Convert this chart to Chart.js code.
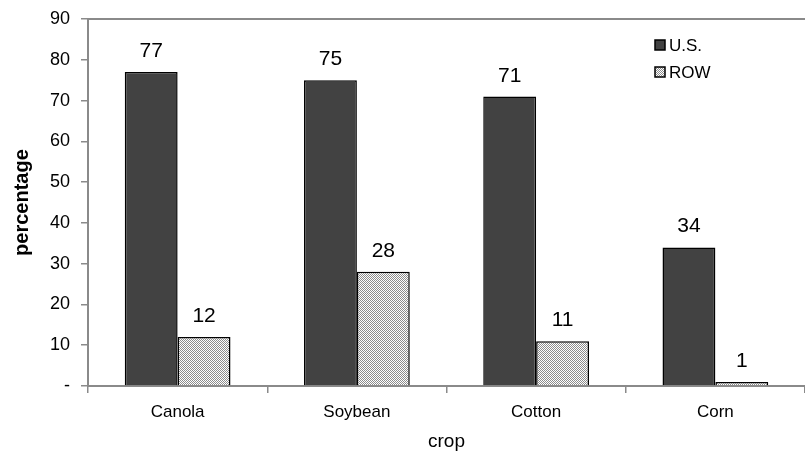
<!DOCTYPE html>
<html>
<head>
<meta charset="utf-8">
<script src="https://cdn.jsdelivr.net/npm/chart.js@4.4.1/dist/chart.umd.min.js"></script>
<style>
  html, body { margin: 0; padding: 0; background: #fff; }
  #wrap { width: 805px; height: 453px; }
</style>
</head>
<body>
<div id="wrap"><canvas id="c" width="805" height="453"></canvas></div>
<script>
// Adoption share by crop
const crops = ['Canola', 'Soybean', 'Cotton', 'Corn'];
const usValues = [77, 75, 71, 34];
const rowValues = [12, 28, 11, 1];
const seriesNames = ['U.S.', 'ROW'];
const yTicks = [0, 10, 20, 30, 40, 50, 60, 70, 80, 90];

const FONT = 'Liberation Sans, Arial, sans-serif';

// fine stipple fill for the second series
function stipple() {
  const p = document.createElement('canvas');
  p.width = 2; p.height = 2;
  const g = p.getContext('2d');
  g.fillStyle = '#ffffff'; g.fillRect(0, 0, 2, 2);
  g.fillStyle = '#8c8c8c';
  g.fillRect(0, 0, 1, 1); g.fillRect(1, 1, 1, 1);
  return g.createPattern(p, 'repeat');
}
const ctx0 = document.getElementById('c').getContext('2d');
const rowFill = stipple();

const decor = {
  id: 'decor',
  afterDatasetsDraw(chart) {
    const ctx = chart.ctx;
    const area = chart.chartArea;
    ctx.save();
    // top frame line
    ctx.strokeStyle = '#8a8a8a';
    ctx.lineWidth = 2;
    ctx.beginPath();
    ctx.moveTo(area.left - 1, area.top);
    ctx.lineTo(chart.width, area.top);
    ctx.stroke();

    // value labels above bars
    ctx.fillStyle = '#000';
    ctx.font = '21px ' + FONT;
    ctx.textAlign = 'center';
    ctx.textBaseline = 'alphabetic';
    chart.data.datasets.forEach((ds, i) => {
      const meta = chart.getDatasetMeta(i);
      meta.data.forEach((bar, j) => {
        ctx.fillText(String(ds.data[j]), bar.x, bar.y - 15);
      });
    });

    // legend
    const lx = 655, ly = [45, 72];
    ctx.font = '17px ' + FONT;
    ctx.textAlign = 'left';
    ctx.textBaseline = 'middle';
    chart.data.datasets.forEach((ds, i) => {
      ctx.fillStyle = ds.backgroundColor;
      ctx.fillRect(lx, ly[i] - 5, 10, 10);
      ctx.strokeStyle = '#000';
      ctx.lineWidth = 1.5;
      ctx.strokeRect(lx, ly[i] - 5, 10, 10);
      ctx.fillStyle = '#000';
      ctx.fillText(seriesNames[i], lx + 14, ly[i] + 1);
    });
    ctx.restore();
  }
};

new Chart(ctx0, {
  type: 'bar',
  data: {
    labels: crops,
    datasets: [
      { label: seriesNames[0], data: usValues, backgroundColor: '#424242', borderColor: '#000', borderWidth: 1.5 },
      { label: seriesNames[1], data: rowValues, backgroundColor: rowFill, borderColor: '#000', borderWidth: 1.5 }
    ]
  },
  options: {
    responsive: false,
    animation: false,
    devicePixelRatio: 1,
    layout: { padding: { top: 1, right: 0, left: 0, bottom: 0 } },
    datasets: { bar: { categoryPercentage: 0.59, barPercentage: 1.0 } },
    plugins: { legend: { display: false }, tooltip: { enabled: false } },
    scales: {
      x: {
        afterFit(scale) { scale.height = 67; },
        grid: { display: true, drawOnChartArea: false, offset: true, color: '#8a8a8a', tickLength: 7, lineWidth: 1.5 },
        border: { color: '#8a8a8a', width: 2 },
        ticks: { color: '#000', font: { family: FONT, size: 17 }, padding: 9 },
        title: { display: true, text: 'crop', color: '#000', font: { family: FONT, size: 19 }, padding: { top: 2, bottom: 0 } }
      },
      y: {
        min: 0, max: 90,
        afterFit(scale) { scale.width = 88; },
        afterBuildTicks(scale) { scale.ticks = yTicks.map(v => ({ value: v })); },
        grid: { display: true, drawOnChartArea: false, color: '#8a8a8a', tickLength: 7, lineWidth: 1.5 },
        border: { color: '#8a8a8a', width: 2 },
        ticks: {
          color: '#000', font: { family: FONT, size: 18, lineHeight: 0.9 }, padding: 11,
          callback: v => (v === 0 ? '-' : String(v))
        },
        title: { display: true, text: 'percentage', color: '#000', font: { family: FONT, size: 20, weight: 'bold' }, padding: { top: 10, bottom: 0 } }
      }
    }
  },
  plugins: [decor]
});
</script>
</body>
</html>
